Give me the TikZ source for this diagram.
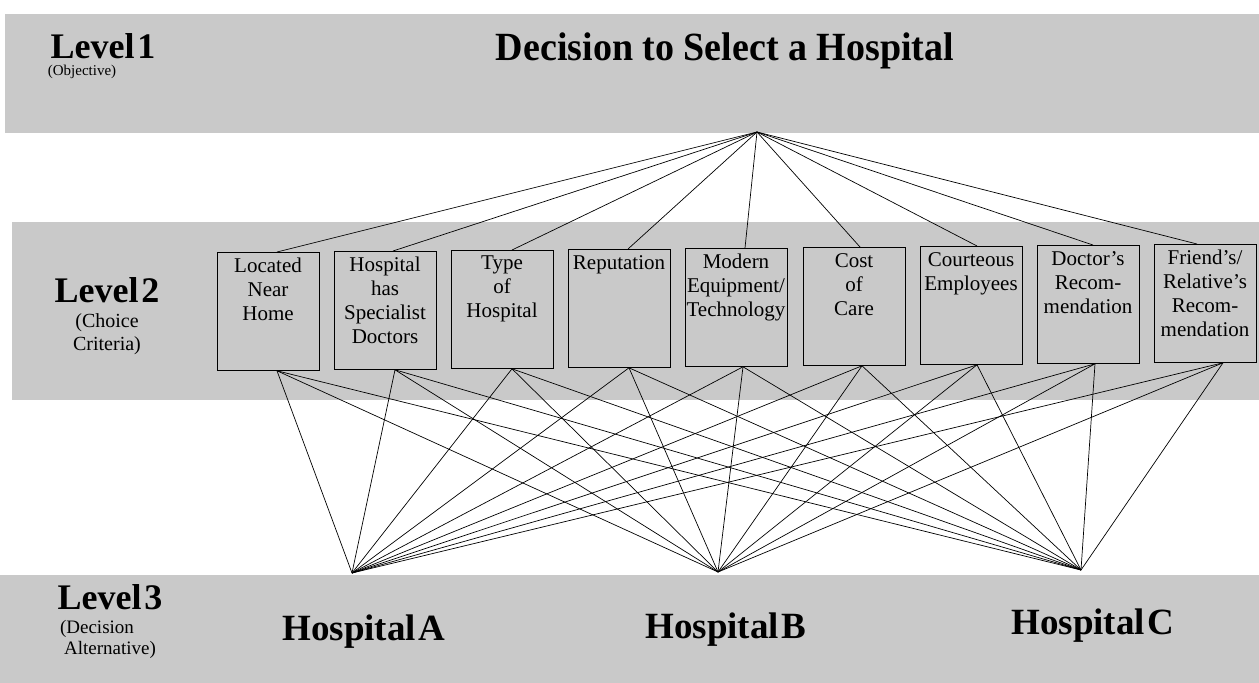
\documentclass[tikz,border=0pt]{standalone}
\usepackage{fontspec}
\setmainfont{Liberation Serif}
\begin{document}
\begin{tikzpicture}[x=1pt,y=-1pt,
  band/.style={fill=black!21, draw=none},
  crit/.style={draw=black, line width=0.8pt, minimum width=102pt, minimum height=118pt, inner sep=0pt, anchor=north},
  ctext/.style={anchor=north, align=center, inner sep=0pt, font=\fontsize{21}{24}\selectfont},
  link/.style={line width=0.7pt},
  lvl/.style={font=\bfseries\fontsize{36}{36}\selectfont, inner sep=0pt, anchor=base},
  sub/.style={font=\fontsize{20}{20}\selectfont, inner sep=0pt, anchor=base},
  subalt/.style={font=\fontsize{19}{19}\selectfont, inner sep=0pt, anchor=base},
  subsmall/.style={font=\fontsize{15}{15}\selectfont, inner sep=0pt, anchor=base},
  alt/.style={font=\bfseries\fontsize{37}{37}\selectfont, inner sep=0pt, anchor=base},
  title/.style={font=\bfseries\fontsize{40}{40}\selectfont, inner sep=0pt, anchor=base}]

\useasboundingbox (0,0) rectangle (1259,683);
\fill[white] (0,0) rectangle (1259,683);
% bands
\fill[band] (5,14) rectangle (1259,133);
\fill[band] (12,222) rectangle (1259,400);
\fill[band] (0,575) rectangle (1259,683);

% level labels
\node[lvl] (l1) at (103,58) {Level\hspace{0.08em}1};
\node[subsmall] (l1s) at (82,75) {(Objective)};
\node[lvl] (l2) at (107,302) {Level\hspace{0.08em}2};
\node[sub] (l2s) at (107,327) {(Choice};
\node[sub] (l2t) at (107,350) {Criteria)};
\node[lvl] (l3) at (110,609) {Level\hspace{0.08em}3};
\node[subalt] (l3s) at (97,633) {(Decision};
\node[subalt] (l3t) at (110,654) {Alternative)};

% objective
\node[title] (goal) at (725,60) {\scalebox{0.95}[1]{Decision to Select a Hospital}};
\coordinate (apex) at (757,132);

% criteria boxes
\node[crit] (c1) at (268,252) {};
\node[crit] (c2) at (385,251) {};
\node[crit] (c3) at (502,250) {};
\node[crit] (c4) at (619,249) {};
\node[crit] (c5) at (736,248) {};
\node[crit] (c6) at (854,247) {};
\node[crit] (c7) at (971,246) {};
\node[crit] (c8) at (1088,245) {};
\node[crit] (c9) at (1205,244) {};

\node[ctext] at ([yshift=-6pt]c1.north) {Located\\Near\\Home};
\node[ctext] at ([yshift=-6pt]c2.north) {Hospital\\has\\Specialist\\Doctors};
\node[ctext] at ([yshift=-6pt]c3.north) {Type\\of\\Hospital};
\node[ctext] at ([yshift=-6pt]c4.north) {Reputation};
\node[ctext] at ([yshift=-6pt]c5.north) {Modern\\Equipment/\\Technology};
\node[ctext] at ([yshift=-6pt]c6.north) {Cost\\of\\Care};
\node[ctext] at ([yshift=-6pt]c7.north) {Courteous\\Employees};
\node[ctext] at ([yshift=-6pt]c8.north) {Doctor's\\Recom-\\mendation};
\node[ctext] at ([yshift=-6pt]c9.north) {Friend's/\\Relative's\\Recom-\\mendation};

% alternatives
\coordinate (hA) at (352,573);
\coordinate (hB) at (718,572);
\coordinate (hC) at (1081,570);
\node[alt] (tA) at (364,640) {Hospital\hspace{0.08em}A};
\node[alt] (tB) at (726,638) {Hospital\hspace{0.08em}B};
\node[alt] (tC) at (1093,634) {Hospital\hspace{0.08em}C};

% links objective -> criteria
\foreach \i/\t in {1/9,2/8,3/10,4/9,5/9,6/6,7/6,8/5,9/-8}
  \draw[link] (apex) -- ([xshift=\t pt]c\i.north);

% links criteria -> alternatives
\foreach \h in {hA,hB,hC}
  \foreach \i/\b in {1/9,2/10,3/10,4/10,5/7,6/8,7/6,8/7,9/18}
    \draw[link] ([xshift=\b pt]c\i.south) -- (\h);
\end{tikzpicture}
\end{document}
